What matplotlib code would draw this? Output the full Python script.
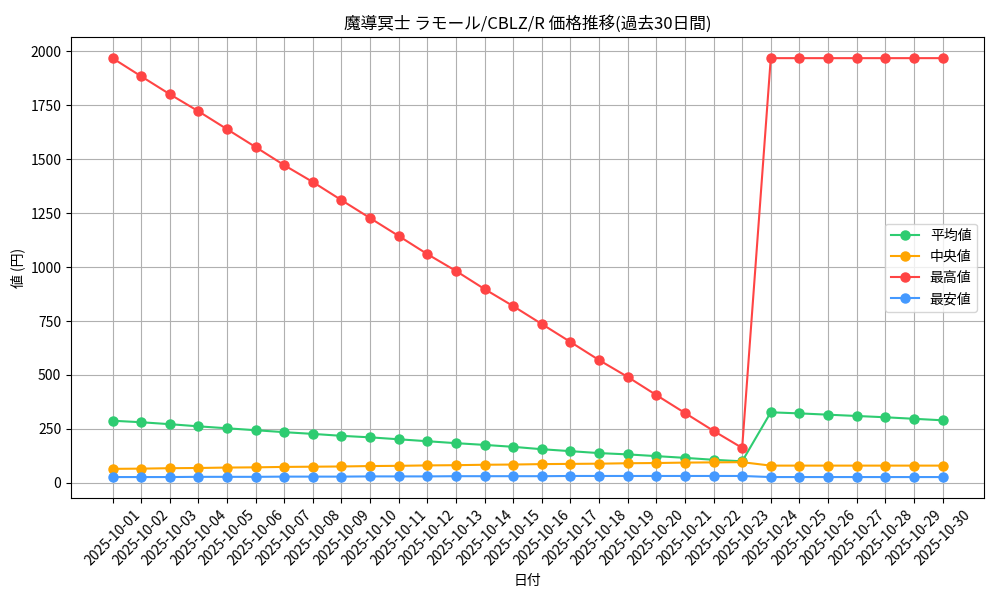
import matplotlib
matplotlib.use("Agg")
import matplotlib.pyplot as plt

plt.rcParams['font.family'] = ['Noto Sans CJK JP', 'DejaVu Sans']

dates = ["2025-10-%02d" % d for d in range(1, 31)]

avg = [288, 281, 272, 262, 253, 244, 235, 227, 218, 211, 202, 193, 184, 176, 167,
       156, 147, 138, 132, 124, 116, 107, 100,
       327, 322, 316, 310, 304, 297, 290]
median = [65, 66, 68, 69, 71, 72, 74, 75, 76, 78, 79, 81, 82, 84, 85,
          87, 88, 89, 91, 92, 94, 95, 96,
          80, 80, 80, 80, 80, 80, 80]
high = [1968, 1884, 1801, 1722, 1639, 1556, 1472, 1394, 1310, 1227, 1144, 1060,
        982, 898, 819, 736, 653, 569, 491, 407, 324, 241, 162,
        1968, 1968, 1968, 1968, 1968, 1968, 1968]
low = [27, 27, 27, 28, 28, 28, 29, 29, 29, 30, 30, 30, 31, 31, 31,
       31, 32, 32, 32, 32, 32, 32, 32,
       27, 27, 27, 27, 27, 27, 27]

fig, ax = plt.subplots(figsize=(10, 6), dpi=100)
ax.plot(dates, avg, marker="o", color="#2ecc71", label="平均値", linewidth=1.5, markersize=6.5)
ax.plot(dates, median, marker="o", color="#ffa500", label="中央値", linewidth=1.5, markersize=6.5)
ax.plot(dates, high, marker="o", color="#ff4444", label="最高値", linewidth=1.5, markersize=6.5)
ax.plot(dates, low, marker="o", color="#4499ff", label="最安値", linewidth=1.5, markersize=6.5)

ax.set_title("魔導冥士 ラモール/CBLZ/R 価格推移(過去30日間)", fontsize=12)
ax.set_xlabel("日付")
ax.set_ylabel("値 (円)")
ax.grid(True)
ax.legend(loc="center right")
plt.xticks(rotation=45)
plt.subplots_adjust(left=0.071, right=0.984, top=0.938, bottom=0.17)
plt.savefig("out.png")
